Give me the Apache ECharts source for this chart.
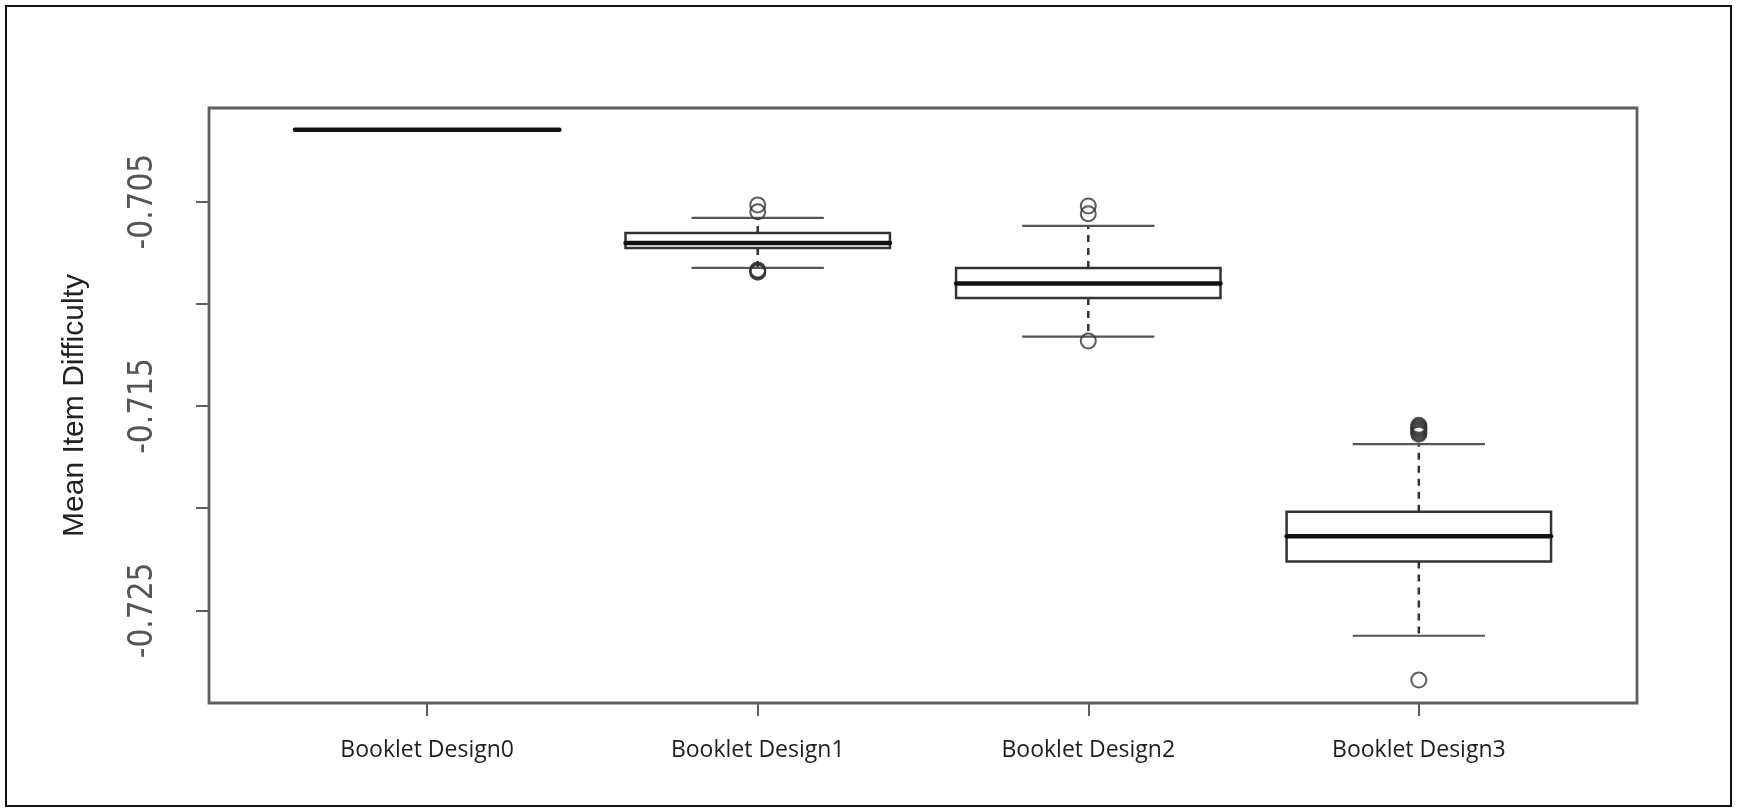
<!DOCTYPE html>
<html lang="en">
<head>
    <meta charset="UTF-8">
    <title>Mean Item Difficulty by Booklet Design</title>
    <script src="https://cdn.jsdelivr.net/npm/echarts@6.0.0/dist/echarts.min.js"></script>
</head>
<body style="margin: 0; background: #ffffff">

<div id="boxchart" style="width: 1737px;height: 812px"></div>

</body>

<script>
    // values
    let categories = ['Booklet Design0', 'Booklet Design1', 'Booklet Design2', 'Booklet Design3'];
    let lowerWhisker = [-0.70149, -0.70824, -0.71161, -0.72624];
    let lowerQuartile = [-0.70149, -0.70727, -0.70971, -0.72261];
    let medians = [-0.70149, -0.70702, -0.70901, -0.72137];
    let upperQuartile = [-0.70149, -0.70653, -0.70825, -0.72017];
    let upperWhisker = [-0.70149, -0.70580, -0.70619, -0.71686];
    let outliers = [
        [],
        [-0.70516, -0.70550, -0.70834, -0.70838, -0.70842, -0.70846],
        [-0.70521, -0.70559, -0.71182],
        [-0.71594, -0.71600, -0.71606, -0.71612, -0.71618, -0.71625, -0.71632, -0.71638, -0.72841]
    ];
    let yTicks = [-0.725, -0.72, -0.715, -0.71, -0.705];
    let yLabels = [-0.725, -0.715, -0.705];
    let xPositions = [1, 2, 3, 4];

    let chart = echarts.init(document.getElementById('boxchart'));

    let boxData = [];
    for (let i = 0; i < categories.length; i++) {
        boxData.push([xPositions[i], lowerWhisker[i], lowerQuartile[i], medians[i], upperQuartile[i], upperWhisker[i]]);
    }
    let outlierData = [];
    outliers.forEach(function (list, i) {
        list.forEach(function (v) {
            outlierData.push([xPositions[i], v]);
        });
    });

    // R style box: dashed whiskers, half-width staples, thick median
    function renderBox(params, api) {
        let x = api.value(0);
        let half = api.size([0.8, 0])[0] / 2;
        let staple = half / 2;
        let pLow = api.coord([x, api.value(1)]);
        let pQ1 = api.coord([x, api.value(2)]);
        let pMed = api.coord([x, api.value(3)]);
        let pQ3 = api.coord([x, api.value(4)]);
        let pHigh = api.coord([x, api.value(5)]);
        let dash = {stroke: '#333333', lineWidth: 2.5, lineDash: [7, 6]};
        let cap = {stroke: '#555555', lineWidth: 2.2};
        return {
            type: 'group',
            children: [
                {type: 'line', shape: {x1: pQ3[0], y1: pQ3[1], x2: pHigh[0], y2: pHigh[1]}, style: dash},
                {type: 'line', shape: {x1: pQ1[0], y1: pQ1[1], x2: pLow[0], y2: pLow[1]}, style: dash},
                {type: 'line', shape: {x1: pHigh[0] - staple, y1: pHigh[1], x2: pHigh[0] + staple, y2: pHigh[1]}, style: cap},
                {type: 'line', shape: {x1: pLow[0] - staple, y1: pLow[1], x2: pLow[0] + staple, y2: pLow[1]}, style: cap},
                {
                    type: 'rect',
                    shape: {x: pQ3[0] - half, y: pQ3[1], width: half * 2, height: pQ1[1] - pQ3[1]},
                    style: {fill: '#ffffff', stroke: '#333333', lineWidth: 2.5}
                },
                {
                    type: 'line',
                    shape: {x1: pMed[0] - half, y1: pMed[1], x2: pMed[0] + half, y2: pMed[1]},
                    style: {stroke: '#111111', lineWidth: 4.5, lineCap: 'round'}
                }
            ]
        };
    }

    let option = {
        animation: false,
        backgroundColor: '#ffffff',
        graphic: [{
            type: 'rect',
            shape: {x: 6, y: 6, width: 1725, height: 800},
            style: {fill: 'none', stroke: '#111111', lineWidth: 2}
        }],
        grid: {
            left: 209, right: 100, top: 108, bottom: 109,
            show: true, borderColor: '#5e5e5e', borderWidth: 2.8,
            containLabel: false
        },
        xAxis: {
            type: 'value',
            min: 0.34,
            max: 4.66,
            axisLine: {show: false},
            splitLine: {show: false},
            axisTick: {
                show: true, length: 13, customValues: xPositions,
                lineStyle: {color: '#5e5e5e', width: 2}
            },
            axisLabel: {
                customValues: xPositions,
                margin: 36,
                fontFamily: 'Open Sans',
                fontSize: 23,
                color: '#1e1e1e',
                formatter: function (v) {
                    return categories[Math.round(v) - 1];
                }
            }
        },
        yAxis: {
            type: 'value',
            min: -0.72953,
            max: -0.70042,
            name: 'Mean Item Difficulty',
            nameLocation: 'middle',
            nameRotate: 90,
            nameGap: 119,
            nameTextStyle: {fontFamily: 'Liberation Sans', fontSize: 30, color: '#222222'},
            axisLine: {show: false},
            splitLine: {show: false},
            axisTick: {
                show: true, length: 13, customValues: yTicks,
                lineStyle: {color: '#5e5e5e', width: 2}
            },
            axisLabel: {
                customValues: yLabels,
                rotate: 90,
                margin: 49,
                fontFamily: "'DejaVu Sans Condensed', 'Liberation Sans'",
                fontSize: 33,
                color: '#555555',
                formatter: function (v) {
                    return v.toFixed(3);
                }
            }
        },
        series: [
            {
                type: 'custom',
                renderItem: renderBox,
                encode: {x: 0, y: [1, 2, 3, 4, 5]},
                data: boxData,
                z: 2
            },
            {
                type: 'scatter',
                symbol: 'circle',
                symbolSize: 15,
                itemStyle: {color: 'rgba(0,0,0,0)', borderColor: '#333333', borderWidth: 2},
                data: outlierData,
                z: 3
            }
        ]
    };
    chart.setOption(option);
</script>

</html>
